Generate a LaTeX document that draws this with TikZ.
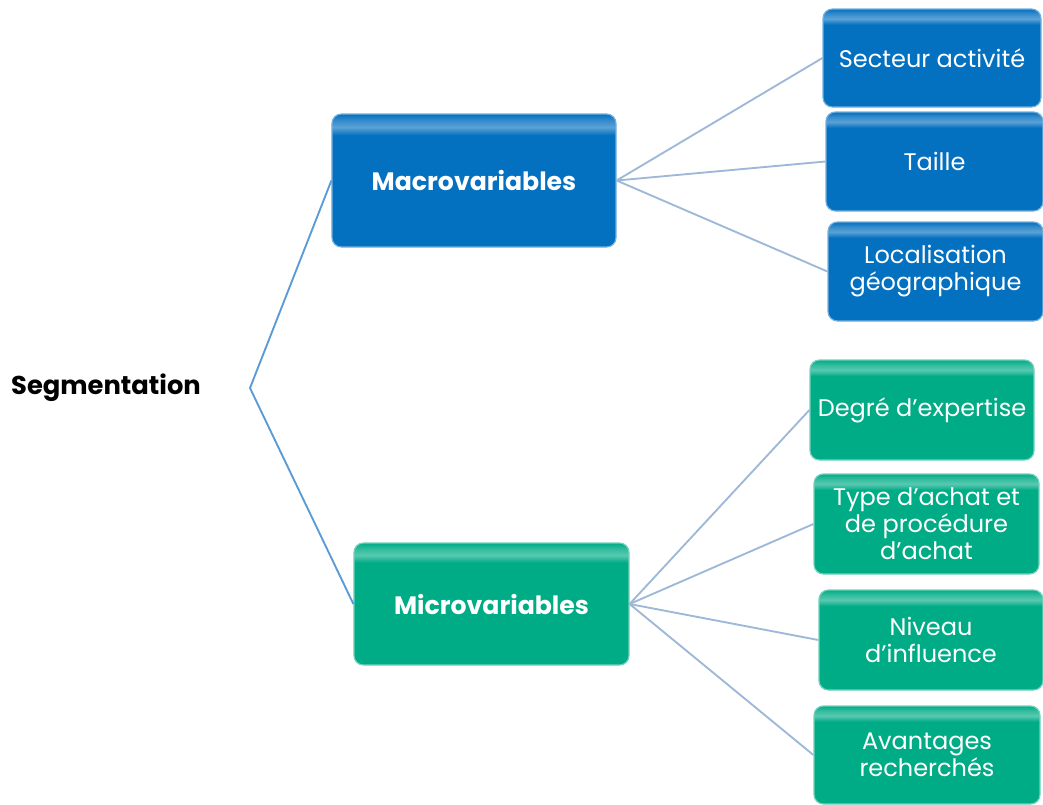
\documentclass[tikz,border=0pt]{standalone}
\usepackage{fontspec}
\setmainfont{Poppins}

\definecolor{macroblue}{RGB}{4,112,192}
\definecolor{microgreen}{RGB}{0,172,134}
\definecolor{trunkline}{RGB}{91,155,213}
\definecolor{twigline}{RGB}{158,184,216}

% top highlight band of the boxes
\pgfdeclareverticalshading{bevelblue}{100bp}{color(0bp)=(macroblue); color(25bp)=(macroblue); color(67bp)=(macroblue); color(70bp)=(macroblue!65!white); color(72.5bp)=(macroblue!80!white); color(75bp)=(macroblue); color(100bp)=(macroblue)}
\pgfdeclareverticalshading{bevelgreen}{100bp}{color(0bp)=(microgreen); color(25bp)=(microgreen); color(67bp)=(microgreen); color(70bp)=(microgreen!65!white); color(72.5bp)=(microgreen!80!white); color(75bp)=(microgreen); color(100bp)=(microgreen)}

\tikzset{
  box/.style={rounded corners=8pt, inner sep=0pt, align=center, text=white,
    line width=1pt, font=\fontsize{20.5}{23}\selectfont},
  bluebox/.style={box, shade, shading=bevelblue, draw=macroblue!55!white},
  greenbox/.style={box, shade, shading=bevelgreen, draw=microgreen!55!white},
  parent/.style={font=\fontsize{21.5}{23}\selectfont\bfseries},
  trunk/.style={trunkline, line width=1.6pt},
  twig/.style={twigline, line width=1.6pt},
}

\begin{document}
\begin{tikzpicture}[x=0.03cm, y=-0.03cm]
  \useasboundingbox (0,0) rectangle (1043,804);

  % Root
  \node[font=\fontsize{22}{23}\selectfont\bfseries] (seg) at (106,388) {Segmentation};
  \coordinate (fork) at (250,388);

  % Two families of variables
  \node[bluebox, parent, minimum width=8.52cm, minimum height=3.99cm] (macro) at (474,180.5) {Macrovariables};
  \node[greenbox, parent, minimum width=8.25cm, minimum height=3.66cm] (micro) at (491.5,604) {Microvariables};

  % Macro leaves
  \node[bluebox, minimum width=6.54cm, minimum height=2.94cm] (sect) at (932,58) {Secteur activité};
  \node[bluebox, minimum width=6.51cm, minimum height=2.97cm] (taille) at (934.5,161.5) {Taille};
  \node[bluebox, minimum width=6.45cm, minimum height=2.97cm] (local) at (935.5,271.5) {Localisation\\géographique};

  % Micro leaves
  \node[greenbox, minimum width=6.72cm, minimum height=3cm] (degre) at (922,410) {Degré d’expertise};
  \node[greenbox, minimum width=6.75cm, minimum height=3cm] (achat) at (926.5,524) {Type d’achat et\\de procédure\\d’achat};
  \node[greenbox, minimum width=6.72cm, minimum height=3cm] (niveau) at (931,640) {Niveau\\d’influence};
  \node[greenbox, minimum width=6.78cm, minimum height=2.94cm] (avant) at (927,755) {Avantages\\recherchés};

  % Connectors
  \draw[trunk] (macro.west) -- (fork) -- (micro.west);
  \foreach \leaf in {sect,taille,local}
    \draw[twig] (macro.east) -- (\leaf.west);
  \foreach \leaf in {degre,achat,niveau,avant}
    \draw[twig] (micro.east) -- (\leaf.west);
\end{tikzpicture}
\end{document}
